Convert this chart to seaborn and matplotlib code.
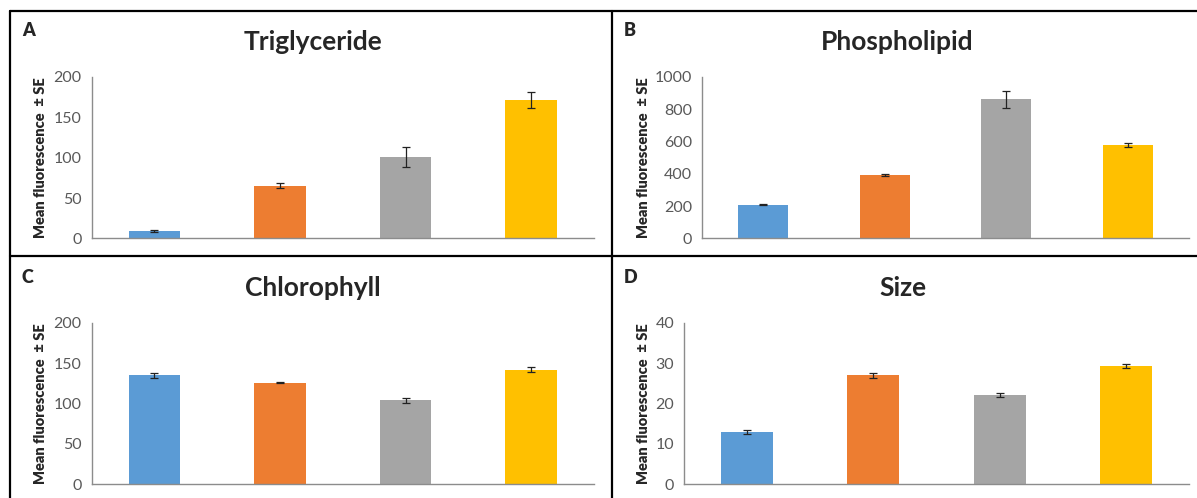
import numpy as np
import pandas as pd
import matplotlib.pyplot as plt
import seaborn as sns
from matplotlib.lines import Line2D

# four treatment groups (no x labels in the original)
groups = ["G1", "G2", "G3", "G4"]
colors = ["#5B9BD5", "#ED7D31", "#A5A5A5", "#FFC000"]

tri_mean = [9, 65.5, 101, 171.5]
tri_se = [1, 3.5, 12, 10]
phos_mean = [210, 393, 862, 578]
phos_se = [3, 5, 51, 12]
chl_mean = [135, 126, 104, 142]
chl_se = [3, 0.5, 3.3, 3]
size_mean = [13, 27, 22, 29.2]
size_se = [0.5, 0.65, 0.5, 0.5]

panels = [
    ("A", "Triglyceride", tri_mean, tri_se, 200, 50),
    ("B", "Phospholipid", phos_mean, phos_se, 1000, 200),
    ("C", "Chlorophyll", chl_mean, chl_se, 200, 50),
    ("D", "Size", size_mean, size_se, 40, 10),
]

W, H = 1197, 498
# axes boxes in pixels: left, right, top, bottom
boxes = [
    (91.5, 594, 77, 238.5),
    (702, 1189, 77, 238.5),
    (91.5, 594, 323, 484),
    (684, 1189, 323, 484),
]
# panel label position and title centre (pixels)
label_xy = [(22, 31), (624, 31), (22, 277), (624, 277)]
title_xy = [(313, 42), (897, 42), (313, 288), (903, 288)]
ylab_x = [41, 643, 41, 643]

sns.set_theme(style="white")
plt.rcParams['font.family'] = ['Lato', 'DejaVu Sans']

fig = plt.figure(figsize=(W / 100, H / 100), dpi=100)

axis_col = "#8C8C8C"
tick_col = "#595959"

for i, (lab, title, mean, se, ymax, step) in enumerate(panels):
    l, r, t, b = boxes[i]
    ax = fig.add_axes([l / W, 1 - b / H, (r - l) / W, (b - t) / H])
    df = pd.DataFrame({"group": groups, "value": mean})
    sns.barplot(data=df, x="group", y="value", hue="group", order=groups,
                palette=colors, legend=False, width=0.41, ax=ax,
                linewidth=0, saturation=1)
    ax.errorbar(np.arange(len(groups)), mean, yerr=se, fmt="none",
                ecolor="#222222", elinewidth=0.9, capsize=3.2, capthick=0.9)
    ax.set_xlim(-0.5, len(groups) - 0.5)
    ax.set_ylim(0, ymax)
    ax.set_yticks(np.arange(0, ymax + step, step))
    ax.set_xticks(np.arange(-0.5, len(groups), 1.0))
    ax.set_xticklabels([])
    ax.set_xlabel("")
    ax.set_ylabel("")
    for s in ["top", "right"]:
        ax.spines[s].set_visible(False)
    for s in ["left", "bottom"]:
        ax.spines[s].set_color(axis_col)
        ax.spines[s].set_linewidth(1.0)
    ax.tick_params(axis="y", direction="out", length=4, width=1,
                   color=axis_col, labelcolor=tick_col, labelsize=11.5, pad=3)
    ax.tick_params(axis="x", direction="out", length=5, width=1,
                   color=axis_col)
    ax.set_facecolor("white")

    fig.text(ylab_x[i] / W, 1 - ((t + b) / 2) / H, "Mean fluorescence  \u00b1 SE",
             fontsize=10.5, fontweight="heavy", rotation=90,
             ha="center", va="center")
    fig.text(label_xy[i][0] / W, 1 - label_xy[i][1] / H, lab,
             fontsize=13, fontweight="heavy", ha="left", va="center")
    fig.text(title_xy[i][0] / W, 1 - title_xy[i][1] / H, title,
             fontsize=19, fontweight="bold", ha="center", va="center")

# panel borders
lw = 1.6
xl, xr = 9.5 / W, 1.0
yt, ym = 1 - 11 / H, 1 - 256 / H
xm = 611.5 / W
fig.add_artist(Line2D([xl, xr], [yt, yt], color="black", lw=lw))
fig.add_artist(Line2D([xl, xr], [ym, ym], color="black", lw=lw))
fig.add_artist(Line2D([xl, xl], [0, yt], color="black", lw=lw))
fig.add_artist(Line2D([xm, xm], [0, yt], color="black", lw=lw))

fig.savefig("out.png", dpi=100, facecolor="white")
